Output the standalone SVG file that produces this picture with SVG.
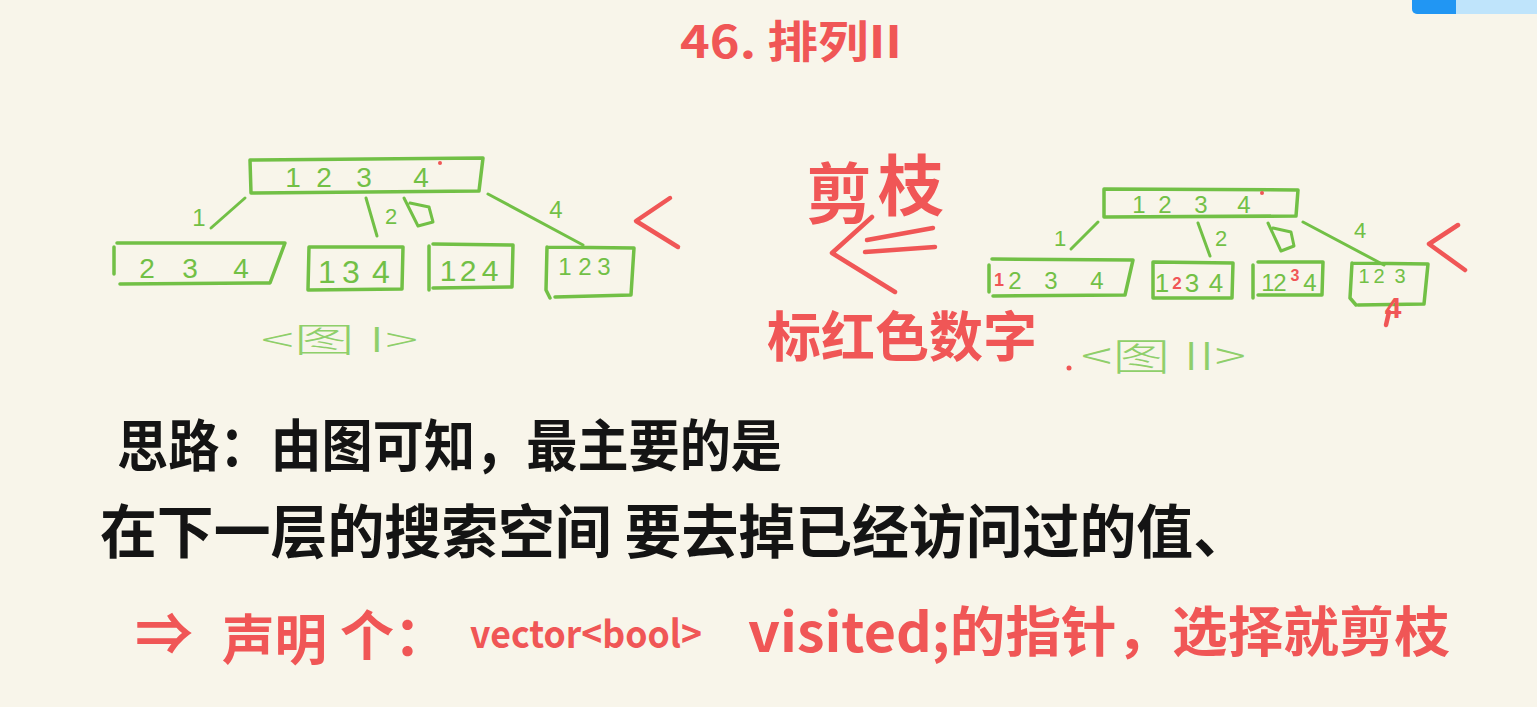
<svg xmlns="http://www.w3.org/2000/svg" width="1537" height="707" viewBox="0 0 1537 707">
<defs>
<style>
.bg{fill:#f8f5ea}
.box{fill:none;stroke:#72c046;stroke-width:3.5;stroke-linejoin:round;stroke-linecap:round}
.edge{fill:none;stroke:#72c046;stroke-width:3;stroke-linecap:round;stroke-linejoin:round}
.gt{fill:#72c046;font-family:"Liberation Sans","Noto Sans",sans-serif;text-anchor:middle}
.rd{fill:#f05656;font-family:"Liberation Sans","Noto Sans",sans-serif;text-anchor:middle;font-weight:700}
.rs{fill:none;stroke:#f05656;stroke-width:4.5;stroke-linecap:round;stroke-linejoin:round}
.cap{fill:#8fcf6a;font-family:"Noto Sans CJK SC","Noto Sans",sans-serif;font-weight:300}
.k{fill:#141414;font-family:"Noto Sans CJK SC","Noto Sans",sans-serif;font-weight:700}
.r{fill:#f05656;font-family:"Noto Sans CJK SC","DejaVu Sans",sans-serif;font-weight:700}
</style>
</defs>
<rect class="bg" x="0" y="0" width="1537" height="707"/>

<g id="toolbar">
<rect x="1412" y="-6" width="130" height="20" rx="5" fill="#bfe4fb"/>
<rect x="1412" y="-6" width="44" height="20" rx="5" fill="#2196f3"/>
<rect x="1440" y="-6" width="16" height="20" fill="#2196f3"/>
</g>

<g id="title">
<text class="r" x="680" y="58" font-size="44" textLength="222" lengthAdjust="spacingAndGlyphs">46. 排列II</text>
</g>

<!-- Tree I -->
<g id="treeI-root">
<path class="box" d="M250,160 L483,158 L479,191 L251,193 Z"/>
<text class="gt" x="293 324 364 421" y="187" font-size="28">1234</text>
<circle cx="440" cy="163" r="2" fill="#f05656"/>
</g>
<g id="treeI-n1">
<path class="box" d="M117,243 L285,243 L270,283 L120,284 M114,247 L114,274"/>
<text class="gt" x="147 190 241" y="278" font-size="28">234</text>
</g>
<g id="treeI-n2">
<path class="box" d="M309,247 L403,247 L402,289 L308,290 Z"/>
<text class="gt" x="327 351 381" y="283" font-size="32">134</text>
</g>
<g id="treeI-n3">
<path class="box" d="M433,244 L513,245 L512,287 L433,288 M429,246 L429,290"/>
<text class="gt" x="448 468 490" y="281" font-size="30">124</text>
</g>
<g id="treeI-n4">
<path class="box" d="M547,247 L634,248 L631,295 L555,297 M547,247 L546,290 L550,298"/>
<text class="gt" x="565 585 604" y="275" font-size="24">123</text>
</g>
<g id="treeI-caption">
<text class="cap" x="261" y="352" font-size="34" textLength="157" lengthAdjust="spacingAndGlyphs">&lt;图 I&gt;</text>
</g>

<!-- Tree II -->
<g id="treeII-root">
<path class="box" d="M1104,189 L1298,190 L1296,216 L1104,217 Z"/>
<text class="gt" x="1139 1165 1201 1244" y="213" font-size="24">1234</text>
<circle cx="1262" cy="193" r="2" fill="#f05656"/>
</g>
<g id="treeII-n1">
<path class="box" d="M992,259 L1133,260 L1125,295 L993,296 M989,265 L989,292"/>
<text class="rd" x="999" y="286" font-size="18">1</text>
<text class="gt" x="1015 1051 1097" y="289" font-size="24">234</text>
</g>
<g id="treeII-n2">
<path class="box" d="M1153,262 L1233,263 L1232,298 L1153,298 Z"/>
<text class="gt" x="1162" y="292" font-size="26">1</text>
<text class="rd" x="1177" y="289" font-size="17">2</text>
<text class="gt" x="1192 1216" y="292" font-size="26">34</text>
</g>
<g id="treeII-n3">
<path class="box" d="M1258,262 L1323,262 L1322,295 L1258,295 M1253,265 L1253,298"/>
<text class="gt" x="1268 1280" y="291" font-size="24">12</text>
<text class="rd" x="1295" y="281" font-size="16">3</text>
<text class="gt" x="1310" y="291" font-size="24">4</text>
</g>
<g id="treeII-n4">
<path class="box" d="M1352,263 L1428,264 L1424,304 L1358,305 M1352,263 L1350,298 L1356,305"/>
<text class="gt" x="1364 1379 1400" y="283" font-size="20">123</text>
<text class="rd" x="1393" y="318" font-size="30">4</text>
<path class="rs" d="M1389,312 L1386,325" stroke-width="4"/>
</g>
<g id="treeII-caption">
<text class="cap" x="1081" y="370" font-size="38" textLength="165" lengthAdjust="spacingAndGlyphs">&lt;图 II&gt;</text>
<circle cx="1069" cy="368" r="2.5" fill="#f05656"/>
</g>

<!-- connectors -->
<g id="connectors">
<path class="edge" d="M245,198 L211,228"/>
<path class="edge" d="M366,198 L377,236"/>
<path class="edge" d="M404,198 L418,226 L433,222 L429,207 L410,203"/>
<path class="edge" d="M488,194 L583,245"/>
<text class="gt" x="199" y="226" font-size="24">1</text>
<text class="gt" x="391" y="224" font-size="22">2</text>
<text class="gt" x="556" y="218" font-size="24">4</text>
<path class="rs" d="M670,198 L636,221 L678,247"/>

<path class="edge" d="M1098,222 L1071,249"/>
<path class="edge" d="M1198,223 L1210,256"/>
<path class="edge" d="M1268,223 L1281,251 L1294,246 L1291,232 L1273,228"/>
<path class="edge" d="M1303,222 L1384,265"/>
<text class="gt" x="1060" y="246" font-size="22">1</text>
<text class="gt" x="1221" y="246" font-size="22">2</text>
<text class="gt" x="1360" y="238" font-size="22">4</text>
<path class="rs" d="M1458,225 L1429,244 L1465,270"/>

<path class="rs" d="M872,217 L832,253 L895,292" stroke-width="5"/>
<path class="rs" d="M867,240 L933,228 M865,252 L935,247" stroke-width="5"/>
</g>

<g id="prune-label">
<text class="r" x="806" y="218" font-size="66">剪</text>
<text class="r" x="878" y="210" font-size="66">枝</text>
<text class="r" x="767" y="357" font-size="54" textLength="270" lengthAdjust="spacingAndGlyphs">标红色数字</text>
</g>

<g id="notes">
<text class="k" x="117" y="466" font-size="56" textLength="665" lengthAdjust="spacingAndGlyphs">思路：由图可知，最主要的是</text>
<text class="k" x="100" y="553" font-size="58" textLength="1150" lengthAdjust="spacingAndGlyphs">在下一层的搜索空间 要去掉已经访问过的值、</text>
<text class="r" x="135" y="655" font-size="58">⇒</text>
<text class="r" x="222" y="660" font-size="54" textLength="105" lengthAdjust="spacingAndGlyphs">声明</text>
<text class="r" x="340" y="656" font-size="54">个：</text>
<text class="r" x="470" y="648" font-size="38" textLength="232" lengthAdjust="spacingAndGlyphs">vector&lt;bool&gt;</text>
<text class="r" x="748" y="652" font-size="54" textLength="702" lengthAdjust="spacingAndGlyphs">visited;的指针，选择就剪枝</text>
</g>
</svg>
